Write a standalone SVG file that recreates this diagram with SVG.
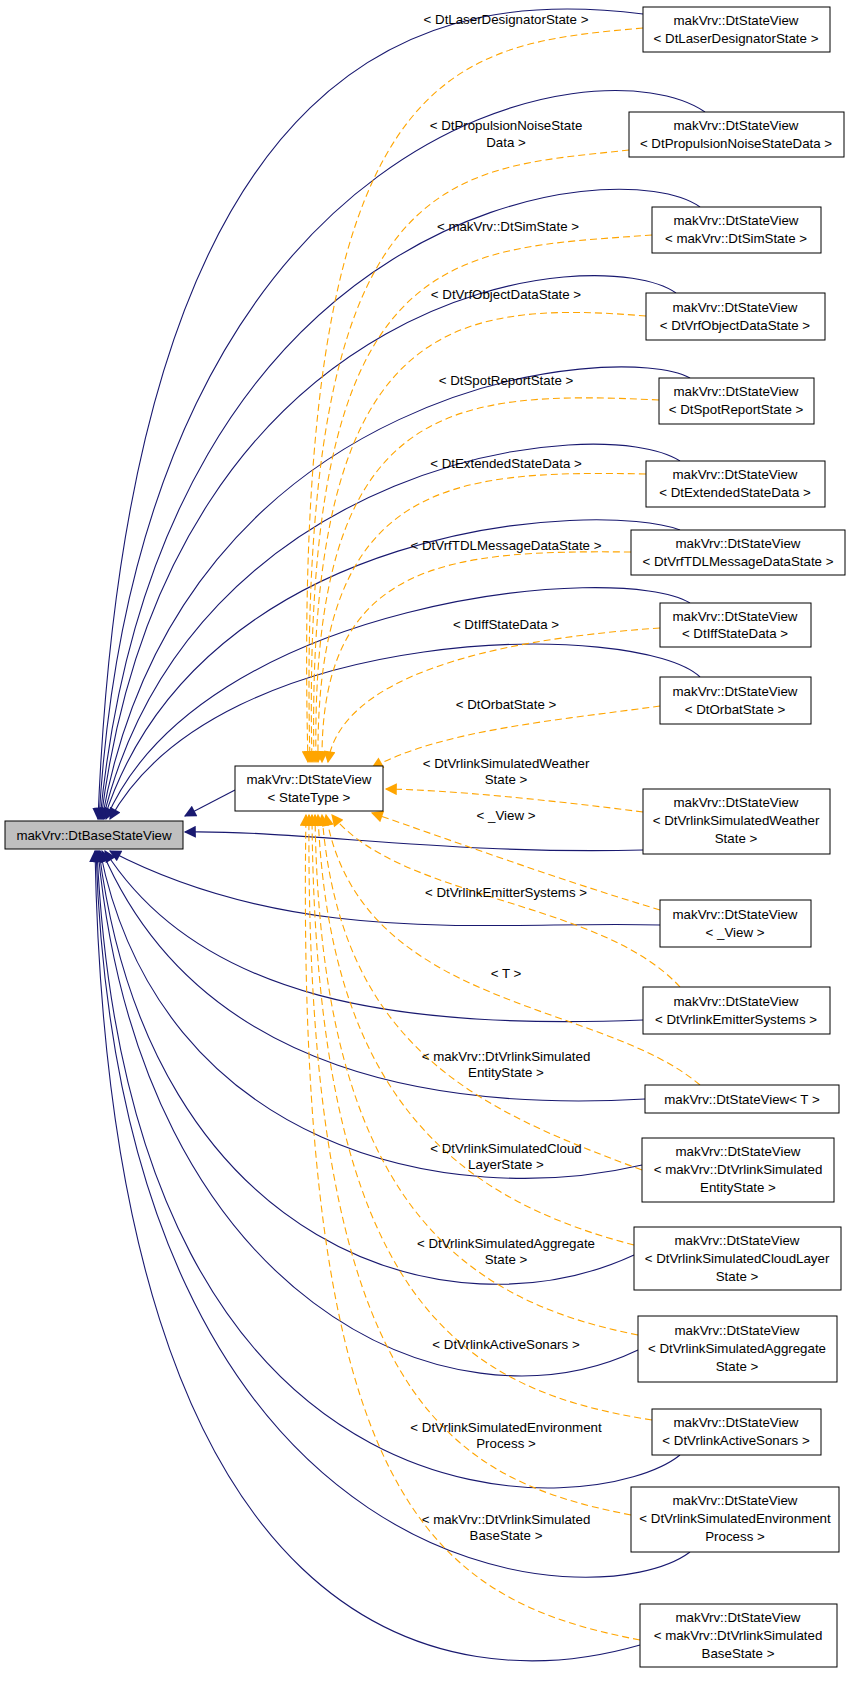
<svg xmlns="http://www.w3.org/2000/svg" width="851" height="1690" viewBox="0 0 851 1690">
<style>
text{font-family:"Liberation Sans",Arial,sans-serif;font-size:13.3px;fill:#000;text-anchor:middle}
.n rect{fill:#fff;stroke:#000;stroke-width:1}
.s{fill:none;stroke:#191970;stroke-width:1.1}
.d{fill:none;stroke:#ffa500;stroke-width:1.1;stroke-dasharray:7,4}
</style>
<defs>
<marker id="an" viewBox="0 0 10 10" refX="9" refY="5" markerWidth="14" markerHeight="12" markerUnits="userSpaceOnUse" orient="auto"><path d="M0,0L10,5L0,10z" fill="#191970"/></marker>
<marker id="ao" viewBox="0 0 10 10" refX="9" refY="5" markerWidth="14" markerHeight="12" markerUnits="userSpaceOnUse" orient="auto"><path d="M0,0L10,5L0,10z" fill="#ffa500"/></marker>
</defs>
<g id="edges">
<path class="s" marker-end="url(#an)" d="M643,14 C450,-10 130,20 98,819"/>
<path class="s" marker-end="url(#an)" d="M705,112 C600,40 140,120 99,819"/>
<path class="s" marker-end="url(#an)" d="M700,207 C620,150 160,200 100,819"/>
<path class="s" marker-end="url(#an)" d="M676,293 C600,240 170,280 101,819"/>
<path class="s" marker-end="url(#an)" d="M690,378 C620,340 180,380 102,819"/>
<path class="s" marker-end="url(#an)" d="M680,461 C600,410 190,460 103,819"/>
<path class="s" marker-end="url(#an)" d="M680,530 C600,500 200,520 104,819"/>
<path class="s" marker-end="url(#an)" d="M690,603 C620,560 200,600 106,819"/>
<path class="s" marker-end="url(#an)" d="M700,677 C640,620 220,620 110,819"/>
<path class="s" marker-end="url(#an)" d="M235,790 L185,816"/>
<path class="s" marker-end="url(#an)" d="M643,850 C450,855 300,830 185,832"/>
<path class="s" marker-end="url(#an)" d="M660,925 C500,920 300,950 110,851"/>
<path class="s" marker-end="url(#an)" d="M643,1020 C400,1030 200,1000 105,851"/>
<path class="s" marker-end="url(#an)" d="M645,1099 C450,1110 200,1080 102,851"/>
<path class="s" marker-end="url(#an)" d="M642,1165 C450,1210 160,1150 100,851"/>
<path class="s" marker-end="url(#an)" d="M634,1255 C450,1340 150,1250 99,851"/>
<path class="s" marker-end="url(#an)" d="M638,1350 C450,1440 140,1300 98,851"/>
<path class="s" marker-end="url(#an)" d="M680,1455 C600,1520 130,1560 97,851"/>
<path class="s" marker-end="url(#an)" d="M690,1552 C600,1620 120,1600 96,851"/>
<path class="s" marker-end="url(#an)" d="M640,1645 C450,1700 110,1650 95,851"/>
<path class="d" marker-end="url(#ao)" d="M643,28 C450,45 290,60 308,762"/>
<path class="d" marker-end="url(#ao)" d="M629,150 C450,170 295,160 310,762"/>
<path class="d" marker-end="url(#ao)" d="M652,235 C450,250 300,240 312,762"/>
<path class="d" marker-end="url(#ao)" d="M646,316 C450,300 305,320 314,762"/>
<path class="d" marker-end="url(#ao)" d="M659,400 C450,390 310,400 316,762"/>
<path class="d" marker-end="url(#ao)" d="M646,474 C450,470 315,480 318,762"/>
<path class="d" marker-end="url(#ao)" d="M631,552 C450,550 320,560 322,762"/>
<path class="d" marker-end="url(#ao)" d="M660,628 C480,640 340,680 328,762"/>
<path class="d" marker-end="url(#ao)" d="M660,706 C560,720 440,730 372,768"/>
<path class="d" marker-end="url(#ao)" d="M643,812 C550,800 450,790 386,789"/>
<path class="d" marker-end="url(#ao)" d="M660,910 C560,880 450,840 372,813"/>
<path class="d" marker-end="url(#ao)" d="M680,987 C600,900 400,900 332,815"/>
<path class="d" marker-end="url(#ao)" d="M700,1085 C600,1000 360,1010 326,815"/>
<path class="d" marker-end="url(#ao)" d="M642,1170 C480,1110 340,1050 322,815"/>
<path class="d" marker-end="url(#ao)" d="M634,1245 C460,1200 330,1100 318,815"/>
<path class="d" marker-end="url(#ao)" d="M638,1335 C460,1300 320,1200 315,815"/>
<path class="d" marker-end="url(#ao)" d="M652,1420 C460,1390 315,1300 312,815"/>
<path class="d" marker-end="url(#ao)" d="M631,1515 C450,1480 305,1400 309,815"/>
<path class="d" marker-end="url(#ao)" d="M640,1640 C430,1600 295,1500 306,815"/>
<text x="506" y="24">&lt; DtLaserDesignatorState &gt;</text>
<text x="506" y="130">&lt; DtPropulsionNoiseState</text><text x="506" y="147">Data &gt;</text>
<text x="508" y="231">&lt; makVrv::DtSimState &gt;</text>
<text x="506" y="299">&lt; DtVrfObjectDataState &gt;</text>
<text x="506" y="385">&lt; DtSpotReportState &gt;</text>
<text x="506" y="468">&lt; DtExtendedStateData &gt;</text>
<text x="506" y="550">&lt; DtVrfTDLMessageDataState &gt;</text>
<text x="506" y="629">&lt; DtIffStateData &gt;</text>
<text x="506" y="709">&lt; DtOrbatState &gt;</text>
<text x="506" y="768">&lt; DtVrlinkSimulatedWeather</text><text x="506" y="784">State &gt;</text>
<text x="506" y="820">&lt; _View &gt;</text>
<text x="506" y="897">&lt; DtVrlinkEmitterSystems &gt;</text>
<text x="506" y="978">&lt; T &gt;</text>
<text x="506" y="1061">&lt; makVrv::DtVrlinkSimulated</text><text x="506" y="1077">EntityState &gt;</text>
<text x="506" y="1153">&lt; DtVrlinkSimulatedCloud</text><text x="506" y="1169">LayerState &gt;</text>
<text x="506" y="1248">&lt; DtVrlinkSimulatedAggregate</text><text x="506" y="1264">State &gt;</text>
<text x="506" y="1349">&lt; DtVrlinkActiveSonars &gt;</text>
<text x="506" y="1432">&lt; DtVrlinkSimulatedEnvironment</text><text x="506" y="1448">Process &gt;</text>
<text x="506" y="1524">&lt; makVrv::DtVrlinkSimulated</text><text x="506" y="1540">BaseState &gt;</text>
</g>
<g id="base"><rect x="5" y="821" width="178" height="28" fill="#bfbfbf" stroke="#000"/><text x="94" y="840">makVrv::DtBaseStateView</text></g>
<g id="statetype" class="n"><rect x="235" y="766" width="148" height="45"/><text x="309" y="784">makVrv::DtStateView</text><text x="309" y="802">&lt; StateType &gt;</text></g>
<g id="n1" class="n"><rect x="643" y="7" width="187" height="45"/><text x="736" y="25">makVrv::DtStateView</text><text x="736" y="43">&lt; DtLaserDesignatorState &gt;</text></g>
<g id="n2" class="n"><rect x="629" y="112" width="215" height="45"/><text x="736" y="130">makVrv::DtStateView</text><text x="736" y="148">&lt; DtPropulsionNoiseStateData &gt;</text></g>
<g id="n3" class="n"><rect x="652" y="207" width="169" height="46"/><text x="736" y="225">makVrv::DtStateView</text><text x="736" y="243">&lt; makVrv::DtSimState &gt;</text></g>
<g id="n4" class="n"><rect x="646" y="293" width="179" height="47"/><text x="735" y="312">makVrv::DtStateView</text><text x="735" y="330">&lt; DtVrfObjectDataState &gt;</text></g>
<g id="n5" class="n"><rect x="659" y="378" width="155" height="46"/><text x="736" y="396">makVrv::DtStateView</text><text x="736" y="414">&lt; DtSpotReportState &gt;</text></g>
<g id="n6" class="n"><rect x="646" y="461" width="179" height="46"/><text x="735" y="479">makVrv::DtStateView</text><text x="735" y="497">&lt; DtExtendedStateData &gt;</text></g>
<g id="n7" class="n"><rect x="631" y="530" width="214" height="45"/><text x="738" y="548">makVrv::DtStateView</text><text x="738" y="566">&lt; DtVrfTDLMessageDataState &gt;</text></g>
<g id="n8" class="n"><rect x="660" y="603" width="151" height="44"/><text x="735" y="621">makVrv::DtStateView</text><text x="735" y="638">&lt; DtIffStateData &gt;</text></g>
<g id="n9" class="n"><rect x="660" y="677" width="151" height="47"/><text x="735" y="696">makVrv::DtStateView</text><text x="735" y="714">&lt; DtOrbatState &gt;</text></g>
<g id="n10" class="n"><rect x="643" y="789" width="187" height="65"/><text x="736" y="807">makVrv::DtStateView</text><text x="736" y="825">&lt; DtVrlinkSimulatedWeather</text><text x="736" y="843">State &gt;</text></g>
<g id="n11" class="n"><rect x="660" y="900" width="151" height="47"/><text x="735" y="919">makVrv::DtStateView</text><text x="735" y="937">&lt; _View &gt;</text></g>
<g id="n12" class="n"><rect x="643" y="987" width="187" height="47"/><text x="736" y="1006">makVrv::DtStateView</text><text x="736" y="1024">&lt; DtVrlinkEmitterSystems &gt;</text></g>
<g id="n13" class="n"><rect x="645" y="1085" width="194" height="28"/><text x="742" y="1104">makVrv::DtStateView&lt; T &gt;</text></g>
<g id="n14" class="n"><rect x="642" y="1138" width="192" height="64"/><text x="738" y="1156">makVrv::DtStateView</text><text x="738" y="1174">&lt; makVrv::DtVrlinkSimulated</text><text x="738" y="1192">EntityState &gt;</text></g>
<g id="n15" class="n"><rect x="634" y="1227" width="207" height="63"/><text x="737" y="1245">makVrv::DtStateView</text><text x="737" y="1263">&lt; DtVrlinkSimulatedCloudLayer</text><text x="737" y="1281">State &gt;</text></g>
<g id="n16" class="n"><rect x="638" y="1316" width="199" height="66"/><text x="737" y="1335">makVrv::DtStateView</text><text x="737" y="1353">&lt; DtVrlinkSimulatedAggregate</text><text x="737" y="1371">State &gt;</text></g>
<g id="n17" class="n"><rect x="652" y="1409" width="169" height="46"/><text x="736" y="1427">makVrv::DtStateView</text><text x="736" y="1445">&lt; DtVrlinkActiveSonars &gt;</text></g>
<g id="n18" class="n"><rect x="631" y="1487" width="208" height="65"/><text x="735" y="1505">makVrv::DtStateView</text><text x="735" y="1523">&lt; DtVrlinkSimulatedEnvironment</text><text x="735" y="1541">Process &gt;</text></g>
<g id="n19" class="n"><rect x="640" y="1604" width="197" height="63"/><text x="738" y="1622">makVrv::DtStateView</text><text x="738" y="1640">&lt; makVrv::DtVrlinkSimulated</text><text x="738" y="1658">BaseState &gt;</text></g>
</svg>
